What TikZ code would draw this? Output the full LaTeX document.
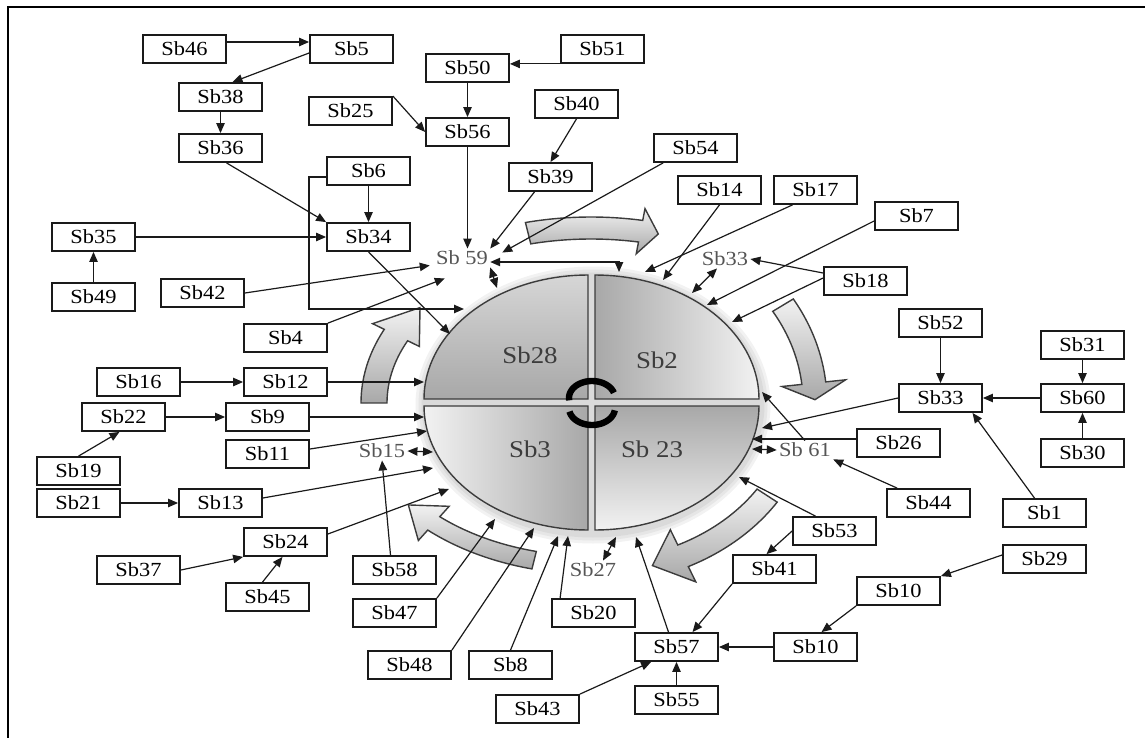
\documentclass[tikz,border=0pt]{standalone}
\usepackage{fontspec}
\setmainfont{Liberation Serif}[FakeStretch=1.12]
\usepackage{xcolor}
\usetikzlibrary{arrows.meta}
\definecolor{sbink}{HTML}{1A1A1A}
\definecolor{sbtext}{HTML}{555555}
\definecolor{sbrim}{HTML}{3C3C3C}
\definecolor{sblight}{HTML}{F2F2F2}
\definecolor{sbmid}{HTML}{D6D6D6}
\definecolor{sbdark}{HTML}{A8A8A8}

% curved block arrow round the wheel: a, b, start, head base, tip, half width, head half width
\newcommand{\flowarrow}[7]{%
  \draw[flow] plot[domain=#3:#4,samples=25] ({591+(#1+#6)*cos(\x)},{403+(#2+#6)*sin(\x)})
    -- ({591+(#1+#7)*cos(#4)},{403+(#2+#7)*sin(#4)})
    -- ({591+#1*cos(#5)},{403+#2*sin(#5)})
    -- ({591+(#1-#7)*cos(#4)},{403+(#2-#7)*sin(#4)})
    -- plot[domain=0:1,samples=25] ({591+(#1-#6)*cos((#4)+((#3)-(#4))*\x)},{403+(#2-#6)*sin((#4)+((#3)-(#4))*\x)})
    -- cycle;}

\begin{document}
\begin{tikzpicture}[x=0.5pt, y=-0.5pt, >={Triangle[length=5pt,width=4.2pt]},
  sbbox/.style={draw=sbink,fill=white,line width=0.9pt,minimum width=41.5pt,minimum height=14pt,inner sep=0pt,font=\fontsize{10}{11}\selectfont},
  sbtag/.style={text=sbtext,inner sep=1pt,font=\fontsize{10}{11}\selectfont},
  quadname/.style={text=sbrim,font=\fontsize{12}{13}\selectfont},
  sblink/.style={draw=sbink,line width=0.6pt,->},
  twoway/.style={draw=sbink,line width=0.6pt,<->},
  quad/.style={draw=sbrim,line width=0.7pt},
  flow/.style={draw=sbrim,line width=0.7pt,top color=sblight,bottom color=sbdark}]
\useasboundingbox (0,0) rectangle (1145,738);
\draw[line width=1pt] (1145,7) -- (8,7) -- (8,738);

\flowarrow{260}{175}{-104}{-79}{-75}{11}{23}
\flowarrow{224}{190}{-31}{-6}{-1}{12}{32}
\flowarrow{210}{170}{33}{64}{73}{12}{29}
\flowarrow{235}{162}{104}{132}{141}{9}{23}
\flowarrow{217}{155}{180}{206}{218}{13}{26}

\foreach \g in {10,7,4}
  \fill[black,opacity=0.05] (593,405) ellipse[x radius=167.5+\g,y radius=128.5+\g];
\draw[quad,top color=sbmid,bottom color=sbdark] (588,399) -- plot[domain=180:270,samples=40] ({588+164*cos(\x)},{399+124*sin(\x)}) -- cycle;
\draw[quad,left color=sbdark,right color=sblight] (595,399) -- plot[domain=270:360,samples=40] ({595+164*cos(\x)},{399+124*sin(\x)}) -- cycle;
\draw[quad,top color=sbdark,bottom color=sblight] (595,406) -- plot[domain=0:90,samples=40] ({595+164*cos(\x)},{406+124*sin(\x)}) -- cycle;
\draw[quad,left color=sblight,right color=sbdark] (588,406) -- plot[domain=90:180,samples=40] ({588+164*cos(\x)},{406+124*sin(\x)}) -- cycle;
\node[quadname] (q28) at (530,355) {Sb28};
\node[quadname] (q2) at (657,360) {Sb2};
\node[quadname] (q3) at (530,449) {Sb3};
\node[quadname] (q23) at (652,449) {Sb 23};
\draw[line width=3.2pt] plot[domain=172:342,samples=30] ({592+23*cos(\x)},{398+17*sin(\x)});
\draw[line width=3.2pt] plot[domain=8:168,samples=30] ({592+23*cos(\x)},{408+17*sin(\x)});

\node[sbbox] (Sb46) at (184.5,49) {Sb46};
\node[sbbox] (Sb5) at (351.5,49) {Sb5};
\node[sbbox] (Sb38) at (220.5,97) {Sb38};
\node[sbbox] (Sb25) at (350.5,111) {Sb25};
\node[sbbox] (Sb36) at (220.5,148) {Sb36};
\node[sbbox] (Sb6) at (368.5,171) {Sb6};
\node[sbbox] (Sb34) at (368.5,237) {Sb34};
\node[sbbox] (Sb35) at (93.5,237) {Sb35};
\node[sbbox] (Sb49) at (93.5,297) {Sb49};
\node[sbbox] (Sb42) at (202.5,293) {Sb42};
\node[sbbox] (Sb4) at (285.5,338) {Sb4};
\node[sbbox] (Sb51) at (602.5,49) {Sb51};
\node[sbbox] (Sb50) at (467.5,68) {Sb50};
\node[sbbox] (Sb56) at (467.5,132) {Sb56};
\node[sbbox] (Sb40) at (576.5,104) {Sb40};
\node[sbbox] (Sb39) at (550.5,177) {Sb39};
\node[sbbox] (Sb54) at (695.5,148) {Sb54};
\node[sbbox] (Sb14) at (719.5,190) {Sb14};
\node[sbbox] (Sb17) at (815.5,190) {Sb17};
\node[sbbox] (Sb7) at (916.5,216) {Sb7};
\node[sbbox] (Sb18) at (865.5,281) {Sb18};
\node[sbbox] (Sb52) at (940.5,323) {Sb52};
\node[sbbox] (Sb33b) at (940.5,398) {Sb33};
\node[sbbox] (Sb31) at (1082.5,345) {Sb31};
\node[sbbox] (Sb60) at (1082.5,398) {Sb60};
\node[sbbox] (Sb30) at (1082.5,453) {Sb30};
\node[sbbox] (Sb26) at (898.5,443) {Sb26};
\node[sbbox] (Sb44) at (928.5,503) {Sb44};
\node[sbbox] (Sb1) at (1044.5,513) {Sb1};
\node[sbbox] (Sb16) at (138.5,382) {Sb16};
\node[sbbox] (Sb12) at (285.5,382) {Sb12};
\node[sbbox] (Sb22) at (123.5,417) {Sb22};
\node[sbbox] (Sb9) at (267.5,417) {Sb9};
\node[sbbox] (Sb11) at (267.5,454) {Sb11};
\node[sbbox] (Sb19) at (78.5,471) {Sb19};
\node[sbbox] (Sb21) at (78.5,503) {Sb21};
\node[sbbox] (Sb13) at (220.5,503) {Sb13};
\node[sbbox] (Sb24) at (285.5,542) {Sb24};
\node[sbbox] (Sb37) at (138.5,570) {Sb37};
\node[sbbox] (Sb45) at (267.5,597) {Sb45};
\node[sbbox] (Sb58) at (394.5,570) {Sb58};
\node[sbbox] (Sb47) at (394.5,613) {Sb47};
\node[sbbox] (Sb48) at (409.5,665) {Sb48};
\node[sbbox] (Sb8) at (510.5,665) {Sb8};
\node[sbbox] (Sb20) at (593.5,613) {Sb20};
\node[sbbox] (Sb53) at (834.5,531) {Sb53};
\node[sbbox] (Sb41) at (774.5,569) {Sb41};
\node[sbbox] (Sb29) at (1044.5,559) {Sb29};
\node[sbbox] (Sb10a) at (898.5,591) {Sb10};
\node[sbbox] (Sb10b) at (815.5,647) {Sb10};
\node[sbbox] (Sb57) at (676.5,647) {Sb57};
\node[sbbox] (Sb43) at (537.5,709) {Sb43};
\node[sbbox] (Sb55) at (676.5,700) {Sb55};

\node[sbtag] (Sb59) at (462,258) {Sb 59};
\node[sbtag] (Sb33) at (725,259) {Sb33};
\node[sbtag] (Sb15) at (382,451) {Sb15};
\node[sbtag] (Sb61) at (805,450) {Sb 61};
\node[sbtag] (Sb27) at (593,570) {Sb27};

\coordinate (eS59t) at (619,272);
\coordinate (eS59b) at (497,288);
\coordinate (eS34) at (450,334);
\coordinate (cL) at (309,309);
\coordinate (eS6) at (464,309);
\coordinate (eS12) at (424,382);
\coordinate (eS9) at (424,417);
\coordinate (eS11) at (427,431);
\coordinate (eS15) at (433,452);
\coordinate (eS13) at (433,468);
\coordinate (eS24) at (449,489);
\coordinate (eS47) at (495,519);
\coordinate (eS48) at (534,528);
\coordinate (eS8) at (558,536);
\coordinate (eS20) at (568,536);
\coordinate (eS27) at (616,537);
\coordinate (eS57) at (636,537);
\coordinate (eS53) at (739,477);
\coordinate (eS61) at (752,449);
\coordinate (eS26) at (752,439);
\coordinate (eS33) at (762,428);
\coordinate (eS2) at (762,392);
\coordinate (eS18) at (732,322);
\coordinate (eS7) at (707,305);
\coordinate (eS33s) at (692,293);
\coordinate (eS14) at (663,280);
\coordinate (eS17) at (645,272);

\draw[sblink] ([yshift=3.5pt]Sb46.east) -- ([yshift=3.5pt]Sb5.west);
\draw[sblink] ([yshift=-2pt]Sb5.west) -- ([xshift=6pt]Sb38.north);
\draw[sblink] (Sb38) -- (Sb36);
\draw[sblink] ([xshift=3pt]Sb36.south) -- (Sb34.north west);
\draw[sblink] (Sb6) -- (Sb34);
\draw[sblink] ([yshift=-3pt]Sb6.west) -| (cL) -- (eS6);
\draw[sblink] (Sb35) -- (Sb34);
\draw[sblink] (Sb49) -- (Sb35);
\draw[sblink] (Sb25.north east) -- (Sb56.west);
\draw[sblink] (Sb51.south west) -- (Sb51.south west -| Sb50.east);
\draw[sblink] (Sb50) -- (Sb56);
\draw[sblink] (Sb56) -- (Sb56 |- Sb59.north);
\draw[sblink] (Sb40.south) -- (Sb39.north);
\draw[sblink] ([xshift=-8pt]Sb39.south) -- (Sb59.north east);
\draw[sblink] ([xshift=5pt]Sb54.south west) -- ([xshift=6pt,yshift=-2pt]Sb59.north east);
\draw[twoway] ([yshift=-2pt]Sb59.east) -| (eS59t);
\draw[twoway] (Sb59.south east) -- (eS59b);
\draw[sblink] (Sb42.east) -- ([xshift=-2pt,yshift=1pt]Sb59.south west);
\draw[sblink] (Sb4.north east) -- ([xshift=5.5pt,yshift=-5.5pt]Sb59.south west);
\draw[sblink] (Sb34.south) -- (eS34);

\draw[sblink] (Sb16) -- (Sb12);
\draw[sblink] (Sb12.east) -- (eS12);
\draw[sblink] (Sb22) -- (Sb9);
\draw[sblink] (Sb9.east) -- (eS9);
\draw[sblink] (Sb19.north) -- ([xshift=-2pt]Sb22.south);
\draw[sblink] ([yshift=2.5pt]Sb11.east) -- (eS11);
\draw[twoway] (Sb15.east) -- (eS15);
\draw[sblink] (Sb21) -- (Sb13);
\draw[sblink] ([yshift=2.5pt]Sb13.east) -- (eS13);
\draw[sblink] ([yshift=4pt]Sb24.east) -- (eS24);
\draw[sblink] (Sb37.east) -- (Sb24.south west);
\draw[sblink] ([xshift=-2.5pt]Sb45.north) -- ([xshift=-1.5pt]Sb24.south);
\draw[sblink] ([xshift=-2pt]Sb58.north) -- (Sb15.south);

\draw[sblink] (Sb47.north east) -- (eS47);
\draw[sblink] (Sb48.north east) -- (eS48);
\draw[sblink] (Sb8.north) -- (eS8);
\draw[sblink] ([xshift=4.5pt]Sb20.north west) -- (eS20);
\draw[twoway] ([xshift=5pt]Sb27.north) -- (eS27);
\draw[sblink] ([xshift=-4pt]Sb57.north) -- (eS57);
\draw[sblink] (Sb41.south west) -- ([xshift=8pt]Sb57.north);
\draw[sblink] (Sb53.west) -- ([xshift=-4pt]Sb41.north);
\draw[sblink] ([xshift=-9.5pt]Sb53.north) -- (eS53);
\draw[sblink] ([yshift=2pt]Sb29.west) -- (Sb10a.north east);
\draw[sblink] (Sb10a.south west) -- ([xshift=3pt]Sb10b.north);
\draw[sblink] (Sb10b) -- (Sb57);
\draw[sblink] (Sb55) -- (Sb57);
\draw[sblink] (Sb43.north east) -- ([xshift=8.5pt]Sb57.south west);

\draw[sblink] (Sb33b.west) -- (eS33);
\draw[sblink] (Sb52) -- (Sb33b);
\draw[sblink] (Sb60) -- (Sb33b);
\draw[sblink] (Sb31) -- (Sb60);
\draw[sblink] (Sb30) -- (Sb60);
\draw[sblink] ([xshift=-5pt]Sb1.north) -- ([xshift=16pt]Sb33b.south);
\draw[sblink] ([yshift=2pt]Sb26.west) -- (eS26);
\draw[twoway] (Sb61.west) -- (eS61);
\draw[sblink] ([xshift=5.5pt]Sb44.north west) -- (Sb61.south east);
\draw[sblink] (Sb61.north) -- (eS2);
\draw[sblink] ([yshift=1.5pt]Sb18.west) -- (eS18);
\draw[sblink] ([yshift=4pt]Sb18.west) -- (Sb33.east);
\draw[sblink] ([yshift=-2.5pt]Sb7.west) -- (eS7);
\draw[twoway] ([xshift=-4pt]Sb33.south) -- (eS33s);
\draw[sblink] ([xshift=-11.5pt]Sb17.south) -- (eS17);
\draw[sblink] (Sb14.south) -- (eS14);
\end{tikzpicture}
\end{document}
